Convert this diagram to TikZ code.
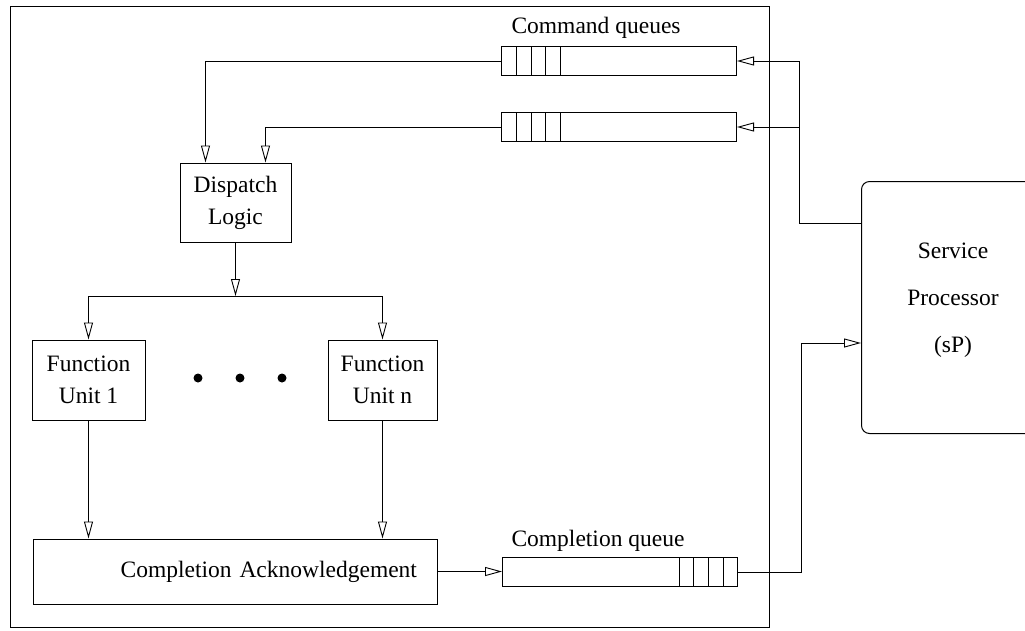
\documentclass[tikz,border=0pt]{standalone}
\usepackage{fontspec}
\setmainfont{Liberation Serif}
\usetikzlibrary{arrows.meta}

\tikzset{
  box/.style={draw, line width=1pt, align=center, inner sep=0pt},
  queue/.style={draw, line width=1pt, minimum width=235pt, minimum height=29pt, inner sep=0pt},
  arr/.style={-{Triangle[open,length=17pt,width=9pt]}, line width=0.9pt},
  wire/.style={line width=0.9pt}
}

\begin{document}
\begin{tikzpicture}[x=1pt,y=-1pt,font=\fontsize{23.5}{32}\selectfont]
\useasboundingbox (0,0) rectangle (1025,630);
% chip outline
\draw[wire] (10,6) rectangle (769,627);

% queues
\node[queue,anchor=north west] (cq1) at (501,46) {};
\node[queue,anchor=north west] (cq2) at (501,112) {};
\node[queue,anchor=north west] (cmpq) at (502,557) {};
\foreach \q in {cq1,cq2} {
  \foreach \dx in {15,30,44,59}
    \draw[wire] ([xshift=\dx pt]\q.north west) -- ([xshift=\dx pt]\q.south west);
}
\foreach \dx in {15,30,45,59}
  \draw[wire] ([xshift=-\dx pt]cmpq.north east) -- ([xshift=-\dx pt]cmpq.south east);
\node[anchor=base west] (cqlbl) at (508,33) {Command queues};
\node[anchor=base west] (cmplbl) at (508,546) {Completion queue};

% units
\node[box,minimum width=111pt,minimum height=79pt] (disp) at (235.5,202.5) {Dispatch\\Logic};
\node[box,minimum width=113pt,minimum height=80pt] (fu1) at (88.5,380) {Function\\Unit 1};
\node[box,minimum width=109pt,minimum height=80pt] (fun) at (382.5,380) {Function\\Unit n};
\node[box,minimum width=404pt,minimum height=65pt,text width=364pt,align=right] (ack) at (235,571.5) {Completion Acknowledgement};
\foreach \x in {198,240,282}
  \fill (\x,378) circle (4.5pt);

% service processor
\node[draw,line width=1pt,rounded corners=8pt,anchor=north west,minimum width=260pt,minimum height=252pt] (sp) at (861,181) {};
\node[align=center,font=\fontsize{23.5}{47}\selectfont] (sptext) at (953,300) {Service\\Processor\\(sP)};

% connections
\coordinate (feed) at (799,223);
\coordinate (ret) at (801,343);
\coordinate (fork) at (235.5,296);
\draw[arr] (feed -| sp.west) -- (feed) |- (cq1.east);
\draw[arr] (feed |- cq2.east) -- (cq2.east);
\draw[arr] (cq1.west) -| ([xshift=-30pt]disp.north);
\draw[arr] (cq2.west) -| ([xshift=30pt]disp.north);
\draw[arr] (disp.south) -- (fork);
\draw[wire] (fu1.north |- fork) -- (fun.north |- fork);
\draw[arr] (fu1.north |- fork) -- (fu1.north);
\draw[arr] (fun.north |- fork) -- (fun.north);
\draw[arr] (fu1.south) -- (fu1.south |- ack.north);
\draw[arr] (fun.south) -- (fun.south |- ack.north);
\draw[arr] (ack.east) -- (ack.east -| cmpq.west);
\draw[arr] (cmpq.east) -| (ret) -- (ret -| sp.west);
\end{tikzpicture}
\end{document}
